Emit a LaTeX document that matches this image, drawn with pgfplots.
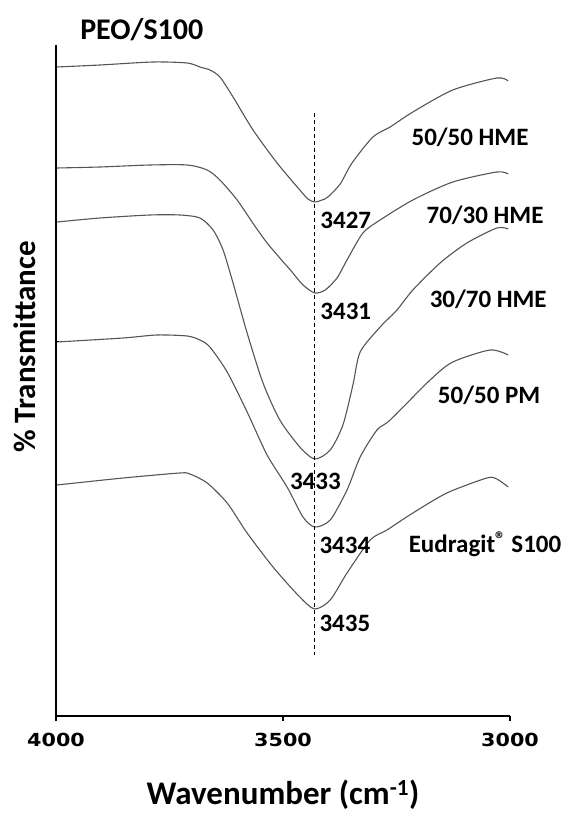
\documentclass[border=0pt]{standalone}
\usepackage{pgfplots}
\pgfplotsset{compat=1.18}
\usepackage{fontspec}
\setmainfont{Carlito}
\newfontfamily\tickfont{DejaVu Sans}[FakeStretch=1.15]
\definecolor{curve}{HTML}{555555}
\begin{document}
\begin{tikzpicture}
\path[use as bounding box] (-56pt,-105pt) rectangle (517pt,716pt);
\begin{axis}[
  at={(0,0)}, anchor=south west,
  width=454pt, height=671pt, scale only axis,
  xmin=3000, xmax=4000, ymin=-716, ymax=-45,
  x dir=reverse,
  clip=false,
  axis line style={draw=none},
  xtick={4000,3500,3000},
  xticklabels={4000,3500,3000},
  xtick pos=lower, tick align=outside,
  major tick length=5pt,
  tick style={black, line width=1.6pt},
  xticklabel style={font=\tickfont\bfseries\fontsize{18}{20}\selectfont, anchor=north, yshift=-9pt},
  ytick=\empty,
  spec/.style={draw=curve, line width=1.1pt, smooth, tension=0.45, mark=none},
]
% 50/50 HME
\addplot[spec] coordinates {(3998,-67) (3903,-65) (3786,-62) (3711,-63) (3683,-67) (3661,-70) (3639,-77) (3610,-97) (3566,-130) (3513,-163) (3463,-190) (3445,-199) (3430,-202) (3414,-200) (3401,-197) (3374,-184) (3348,-163) (3302,-137) (3264,-127) (3214,-112) (3126,-90) (3029,-78) (3004,-81)};
% 70/30 HME
\addplot[spec] coordinates {(3998,-168) (3903,-167) (3793,-165) (3711,-165) (3667,-170) (3639,-180) (3601,-200) (3562,-226) (3535,-243) (3507,-258) (3480,-272) (3456,-285) (3430,-293) (3407,-290) (3381,-278) (3359,-260) (3324,-233) (3286,-220) (3214,-200) (3126,-182) (3029,-172) (3004,-174)};
% 30/70 HME
\addplot[spec] coordinates {(3998,-222) (3903,-218) (3793,-215) (3727,-215) (3683,-218) (3654,-230) (3632,-250) (3610,-283) (3579,-333) (3544,-383) (3507,-420) (3463,-447) (3430,-459) (3396,-450) (3368,-425) (3346,-385) (3330,-352) (3286,-327) (3249,-310) (3214,-290) (3154,-263) (3095,-243) (3029,-228) (3004,-229)};
% 50/50 PM
\addplot[spec] coordinates {(3998,-342) (3852,-338) (3778,-335) (3711,-336) (3683,-340) (3661,-347) (3623,-372) (3579,-412) (3535,-455) (3491,-487) (3456,-517) (3430,-527) (3396,-520) (3359,-490) (3330,-457) (3293,-430) (3264,-420) (3176,-380) (3126,-362) (3044,-350) (3004,-355)};
% Eudragit S100
\addplot[spec] coordinates {(3998,-485) (3852,-478) (3727,-473) (3705,-474) (3667,-483) (3623,-503) (3579,-533) (3522,-567) (3463,-597) (3430,-609) (3396,-600) (3359,-573) (3308,-540) (3271,-530) (3214,-513) (3139,-493) (3051,-478) (3029,-479) (3004,-487)};
% dashed reference line
\addplot[black, line width=0.8pt, dash pattern=on 4pt off 3pt, sharp plot, mark=none] coordinates {(3430,-113) (3430,-655)};
% axis lines
\draw[black, line width=1.6pt] (axis cs:4000,-45) -- (axis cs:4000,-716) -- (axis cs:3000,-716);
\draw[black, line width=1pt] (axis cs:4000,-342) -- (axis cs:3993,-342);
% texts
\begin{scope}[every node/.style={font=\bfseries\fontsize{25}{30}\selectfont, inner sep=0pt}]
\node at (axis cs:3811,-30) {\fontsize{30}{36}\selectfont PEO/S100};
\node at (axis cs:3088,-137) {50/50 HME};
\node at (axis cs:3055,-215) {70/30 HME};
\node at (axis cs:3048,-299) {30/70 HME};
\node at (axis cs:3046,-395) {50/50 PM};
\node at (axis cs:3055,-544) {Eudragit\raisebox{0.25em}{\fontsize{21}{21}\selectfont ®} S100};
\node[anchor=west] at (axis cs:3418,-220) {3427};
\node[anchor=west] at (axis cs:3418,-311) {3431};
\node[anchor=west] at (axis cs:3485,-481) {3433};
\node[anchor=west] at (axis cs:3420,-545) {3434};
\node[anchor=west] at (axis cs:3420,-623) {3435};
\node[rotate=90] at (axis cs:4068,-347) {\fontsize{31}{36}\selectfont \% Transmittance};
\node at (axis cs:3500,-795) {\fontsize{33}{38}\selectfont Wavenumber (cm\textsuperscript{-1})};
\end{scope}
\end{axis}
\end{tikzpicture}
\end{document}
